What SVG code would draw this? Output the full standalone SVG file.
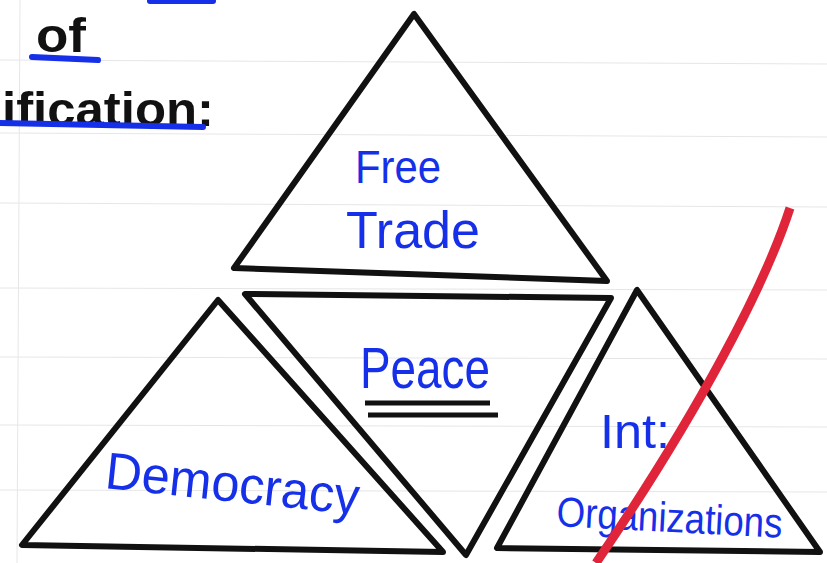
<svg xmlns="http://www.w3.org/2000/svg" width="827" height="563" viewBox="0 0 827 563">
<style>
.tri{fill:none;stroke:#111;stroke-width:6;stroke-linejoin:round;stroke-linecap:round}
.lbl{font-family:"Liberation Sans",Arial,sans-serif;fill:#1530e8}
.ttl{font-family:"Liberation Sans",Arial,sans-serif;fill:#111;font-weight:bold}
.ul{stroke:#1530e8;stroke-width:6;stroke-linecap:round}
.rule{stroke:#e6e6e6;stroke-width:1}
</style>
<rect width="827" height="563" fill="#fff"/>
<g id="rules">
<line class="rule" x1="0" y1="60" x2="827" y2="64"/>
<line class="rule" x1="0" y1="133" x2="827" y2="137"/>
<line class="rule" x1="0" y1="203" x2="827" y2="207"/>
<line class="rule" x1="0" y1="288" x2="827" y2="290"/>
<line class="rule" x1="0" y1="357" x2="827" y2="359"/>
<line class="rule" x1="0" y1="425" x2="827" y2="427"/>
<line class="rule" x1="0" y1="490" x2="827" y2="492"/>
<line class="rule" x1="20" y1="0" x2="17" y2="563"/>
</g>
<g id="title">
<line class="ul" x1="150" y1="1" x2="213" y2="1"/>
<text class="ttl" x="36" y="52" font-size="48" textLength="50" lengthAdjust="spacingAndGlyphs">of</text>
<line class="ul" x1="32" y1="57" x2="98" y2="60"/>
<text class="ttl" x="2" y="126" font-size="48" textLength="212" lengthAdjust="spacingAndGlyphs">ification:</text>
<line class="ul" x1="0" y1="123" x2="203" y2="127"/>
</g>
<g id="free-trade">
<path class="tri" d="M414,14 L234,268 L607,281 Z"/>
<text class="lbl" x="355" y="183" font-size="46" textLength="86" lengthAdjust="spacingAndGlyphs">Free</text>
<text class="lbl" x="346" y="248" font-size="52" textLength="134" lengthAdjust="spacingAndGlyphs">Trade</text>
</g>
<g id="peace">
<path class="tri" d="M245,294 L611,298 L466,555 Z"/>
<text class="lbl" x="360" y="388" font-size="58" textLength="130" lengthAdjust="spacingAndGlyphs">Peace</text>
<line x1="365" y1="403" x2="490" y2="403" stroke="#111" stroke-width="5"/>
<line x1="368" y1="415" x2="498" y2="415" stroke="#111" stroke-width="5"/>
</g>
<g id="democracy">
<path class="tri" d="M218,300 L22,545 L443,552 Z"/>
<text class="lbl" x="104" y="488" font-size="52" textLength="255" lengthAdjust="spacingAndGlyphs" transform="rotate(6 104 488)">Democracy</text>
</g>
<g id="intl-org">
<path class="tri" d="M637,290 L497,548 L820,552 Z"/>
<text class="lbl" x="600" y="448" font-size="48" textLength="70" lengthAdjust="spacingAndGlyphs">Int:</text>
<text class="lbl" x="556" y="526" font-size="42" textLength="226" lengthAdjust="spacingAndGlyphs" transform="rotate(3 556 526)">Organizations</text>
</g>
<g id="strike">
<path d="M790,208 C765,285 700,410 596,563" fill="none" stroke="#e0253a" stroke-width="9" stroke-linecap="butt"/>
</g>
</svg>
